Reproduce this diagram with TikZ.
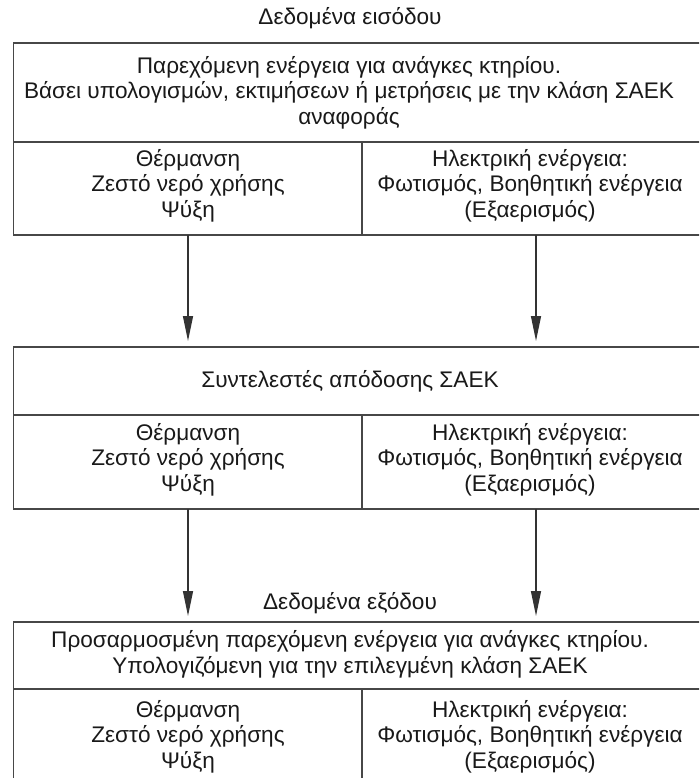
\documentclass[tikz,border=0pt]{standalone}
\usepackage{fontspec}
\setmainfont{Liberation Sans}
\usetikzlibrary{arrows.meta}
\begin{document}
\begin{tikzpicture}[x=1pt,y=-1pt,
  frame/.style={draw=black!72,line width=1.4pt},
  txt/.style={align=center,inner sep=0pt,text=black!90,font=\fontsize{22.6}{25.6}\selectfont},
  arr/.style={draw=black!80,line width=1.3pt,-{Triangle[length=25pt,width=10pt]},shorten >=6pt}]
\useasboundingbox (0,0) rectangle (699,778);
\clip (0,0) rectangle (699,778);

% input block
\node[txt] (tin) at (350,18) {Δεδομένα εισόδου};
\draw[frame] (705,43) -- (13.5,43) -- (13.5,235) -- (705,235);
\draw[frame] (13.5,142) -- (705,142);
\draw[frame] (362,142) -- (362,235);
\node[txt] (b1) at (349,92.5) {Παρεχόμενη ενέργεια για ανάγκες κτηρίου.\\
  Βάσει υπολογισμών, εκτιμήσεων ή μετρήσεις με την κλάση ΣΑΕΚ\\ αναφοράς};
\node[txt] (b1l) at (188,185.5) {Θέρμανση\\ Ζεστό νερό χρήσης\\ Ψύξη};
\node[txt] (b1r) at (530,185.5) {Ηλεκτρική ενέργεια:\\ Φωτισμός, Βοηθητική ενέργεια\\ (Εξαερισμός)};

% conversion factors block
\draw[frame] (705,347) -- (13.5,347) -- (13.5,509) -- (705,509);
\draw[frame] (13.5,415) -- (705,415);
\draw[frame] (362,415) -- (362,509);
\node[txt] (b2) at (350,381) {Συντελεστές απόδοσης ΣΑΕΚ};
\node[txt] (b2l) at (188,459.5) {Θέρμανση\\ Ζεστό νερό χρήσης\\ Ψύξη};
\node[txt] (b2r) at (530,459.5) {Ηλεκτρική ενέργεια:\\ Φωτισμός, Βοηθητική ενέργεια\\ (Εξαερισμός)};

% output block
\node[txt] (tout) at (350,603) {Δεδομένα εξόδου};
\draw[frame] (705,622) -- (13.5,622) -- (13.5,790);
\draw[frame] (13.5,689) -- (705,689);
\draw[frame] (362,689) -- (362,790);
\node[txt] (b3) at (350,654.5) {Προσαρμοσμένη παρεχόμενη ενέργεια για ανάγκες κτηρίου.\\
  Υπολογιζόμενη για την επιλεγμένη κλάση ΣΑΕΚ};
\node[txt] (b3l) at (188,736.5) {Θέρμανση\\ Ζεστό νερό χρήσης\\ Ψύξη};
\node[txt] (b3r) at (530,736.5) {Ηλεκτρική ενέργεια:\\ Φωτισμός, Βοηθητική ενέργεια\\ (Εξαερισμός)};

% connector end points on the block borders
\coordinate (p1s) at (188,235);
\coordinate (p1e) at (188,347);
\coordinate (p2s) at (536,235);
\coordinate (p2e) at (536,347);
\coordinate (p3s) at (188,509);
\coordinate (p3e) at (188,622);
\coordinate (p4s) at (536,509);
\coordinate (p4e) at (536,622);
\draw[arr] (p1s) -- (p1e);
\draw[arr] (p2s) -- (p2e);
\draw[arr] (p3s) -- (p3e);
\draw[arr] (p4s) -- (p4e);
\end{tikzpicture}
\end{document}
